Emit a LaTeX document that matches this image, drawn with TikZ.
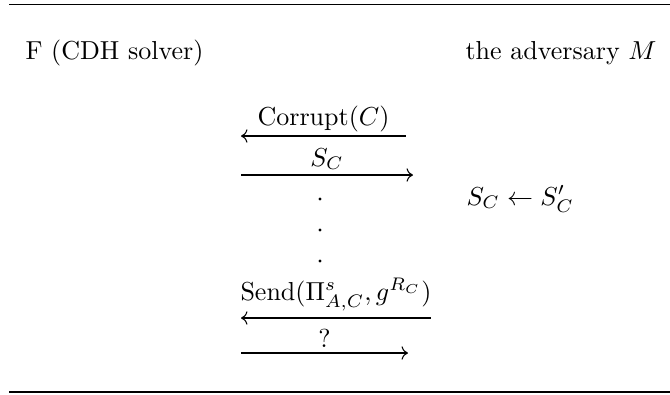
\documentclass[tikz,border=0pt]{standalone}
\usetikzlibrary{arrows.meta}
\begin{document}
\begin{tikzpicture}[x=0.3846pt, y=-0.3846pt,
  rulestyle/.style={line width=0.5pt},
  msg/.style={line width=0.4pt},
  lbl/.style={inner sep=0pt, anchor=base},
  dotmark/.style={fill=black, circle, inner sep=0pt, minimum size=1.2pt}]
\useasboundingbox (0,0) rectangle (670,394);
% rules
\coordinate (tl) at (9,4.5); \coordinate (tr) at (670,4.5);
\coordinate (bl) at (9,392); \coordinate (br) at (670,392);
\draw[rulestyle] (tl) -- (tr);
\draw[rulestyle] (bl) -- (br);
% headers
\node[inner sep=0pt, anchor=base west] (F) at (25,59) {F (CDH solver)};
\node[inner sep=0pt, anchor=base east] (M) at (657,59) {the adversary $M$};
% message 1
\coordinate (a1l) at (241,136); \coordinate (a1r) at (406,136);
\draw[msg,<-] (a1l) -- (a1r);
\node[lbl] (l1) at (323.5,125) {Corrupt$(C)$};
% message 2
\coordinate (a2l) at (241,175); \coordinate (a2r) at (413,175);
\draw[msg,->] (a2l) -- (a2r);
\node[lbl] (l2) at (327,166) {$S_C$};
% side note
\node[inner sep=0pt, anchor=base west] (note) at (466,205) {$S_C \leftarrow S'_C$};
% dots
\node[dotmark] (d1) at (320,199) {};
\node[dotmark] (d2) at (320,230) {};
\node[dotmark] (d3) at (320,261) {};
% message 3
\coordinate (a3l) at (241,318); \coordinate (a3r) at (431,318);
\draw[msg,<-] (a3l) -- (a3r);
\node[lbl] (l3) at (336,300) {Send$(\Pi^s_{A,C}, g^{R_C})$};
% message 4
\coordinate (a4l) at (241,353); \coordinate (a4r) at (408,353);
\draw[msg,->] (a4l) -- (a4r);
\node[lbl] (l4) at (324.5,347) {?};
\end{tikzpicture}
\end{document}
